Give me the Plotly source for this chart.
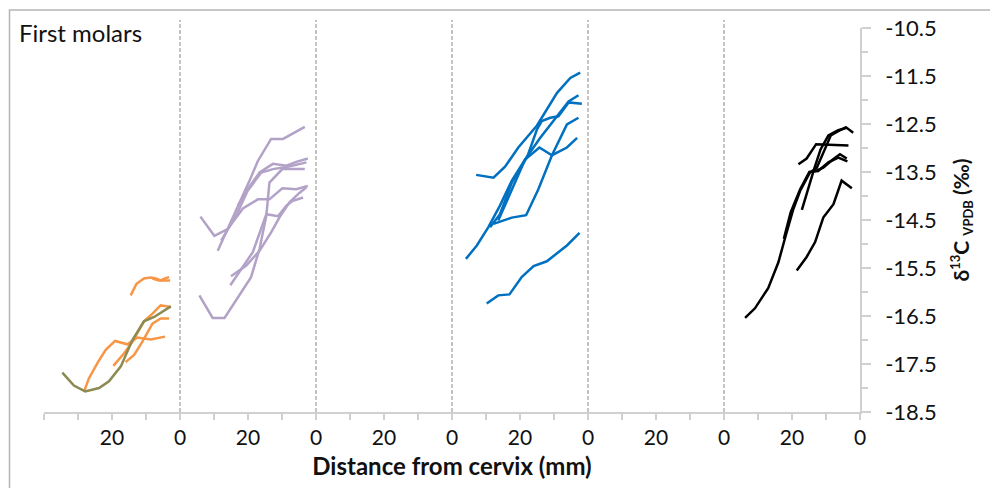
import plotly.graph_objects as go
import numpy as np

SEG_MM = 40  # each panel spans 40 mm of distance from cervix (reversed)

# ---- data: distance from cervix (mm) and δ13C VPDB (‰) per profile ----
orange_dist = [
    [14.5, 12.8, 10.6, 8.6, 7.1, 5.7, 4.2, 3.2],
    [8.1, 6.2, 2.9],
    [28.2, 26.8, 24.3, 21.9, 19.1, 15.5, 12.6, 8.6, 4.4],
    [19.6, 16.5, 14.0, 10.6, 8.1, 5.7, 2.7],
    [16.0, 13.5, 11.1, 8.1, 5.7, 3.2],
]
orange_d13c = [
    [-16.07, -15.83, -15.72, -15.70, -15.72, -15.76, -15.71, -15.69],
    [-15.72, -15.76, -15.76],
    [-18.07, -17.80, -17.48, -17.21, -17.02, -17.09, -16.95, -16.99, -16.93],
    [-17.54, -17.28, -17.04, -16.61, -16.45, -16.28, -16.31],
    [-17.46, -17.31, -17.04, -16.66, -16.55, -16.55],
]
olive_dist = [[34.6, 31.2, 27.9, 23.8, 20.9, 17.4, 14.0, 10.6, 7.6, 5.2, 2.7]]
olive_d13c = [[-17.68, -17.95, -18.07, -18.00, -17.86, -17.55, -17.00, -16.61, -16.52, -16.41, -16.30]]

purple_dist = [
    [34.0, 29.9, 26.0, 21.5, 17.1, 13.7, 9.9, 5.8, 2.4],
    [34.3, 30.4, 26.9, 19.1, 16.6, 14.6, 13.7, 9.9, 5.8, 3.3],
    [28.9, 25.5, 22.5, 19.6, 17.1, 13.2, 9.7, 3.3],
    [25.0, 20.5, 16.6, 13.2, 10.7, 7.8, 4.8, 2.8],
    [25.2, 22.0, 18.6, 14.6, 11.2, 8.7, 6.8, 3.8],
    [23.0, 20.1, 16.6, 12.7, 8.7, 5.8, 2.4],
    [27.9, 23.5, 20.1, 16.1, 12.7, 8.3, 2.8],
]
purple_d13c = [
    [-14.43, -14.83, -14.69, -14.26, -14.07, -14.07, -13.84, -13.86, -13.79],
    [-16.07, -16.54, -16.54, -15.69, -15.10, -14.41, -13.72, -13.44, -13.44, -13.44],
    [-15.14, -14.62, -14.17, -13.69, -13.27, -12.81, -12.81, -12.56],
    [-15.67, -15.45, -15.14, -14.76, -14.44, -14.13, -13.93, -13.82],
    [-15.86, -15.52, -15.17, -14.38, -14.42, -14.20, -14.10, -14.03],
    [-14.20, -13.86, -13.51, -13.33, -13.37, -13.29, -13.22],
    [-14.93, -14.41, -13.89, -13.51, -13.44, -13.39, -13.30],
]

blue_dist = [
    [32.9, 27.8, 24.4, 20.5, 15.0, 12.1, 9.1, 5.2, 2.3],
    [35.9, 32.7, 29.3, 25.9, 22.4, 18.5, 14.1, 9.1, 5.7, 2.8],
    [28.8, 25.9, 22.4, 17.8, 15.0, 13.6, 11.1, 8.7, 5.7, 1.8],
    [27.8, 22.4, 18.2, 14.6, 10.6, 6.2, 2.8],
    [26.4, 22.9, 18.5, 14.3, 10.6, 6.2, 3.2],
    [29.8, 26.4, 23.1, 19.5, 16.0, 12.1, 6.2, 2.5],
]
blue_d13c = [
    [-13.56, -13.62, -13.39, -12.99, -12.53, -12.20, -11.85, -11.54, -11.43],
    [-15.31, -15.03, -14.65, -14.20, -13.68, -13.24, -12.79, -12.34, -12.03, -11.90],
    [-14.65, -14.38, -13.72, -13.17, -12.61, -12.44, -12.37, -12.34, -12.05, -12.08],
    [-14.58, -14.45, -14.40, -13.86, -13.15, -12.51, -12.37],
    [-14.51, -13.93, -13.24, -12.99, -13.15, -12.99, -12.79],
    [-16.24, -16.07, -16.05, -15.69, -15.46, -15.36, -15.03, -14.77],
]

black_dist = [
    [33.8, 30.9, 27.0, 24.0, 22.1, 19.6, 17.6, 14.7, 12.7, 10.3, 8.6, 6.4, 3.9],
    [18.6, 15.7, 13.2, 10.8, 7.8, 5.4, 2.4],
    [18.1, 15.7, 12.9, 3.4],
    [22.4, 20.4, 17.6, 14.9, 12.3, 9.3, 6.4, 3.7],
    [17.1, 15.5, 13.5, 11.6, 9.3, 6.4, 3.9, 2.0],
    [13.2, 10.8, 8.0, 5.9, 3.9],
]
black_d13c = [
    [-16.54, -16.34, -15.92, -15.38, -14.89, -14.27, -13.89, -13.51, -13.41, -13.03, -12.74, -12.65, -12.56],
    [-15.55, -15.27, -14.96, -14.45, -14.17, -13.68, -13.84],
    [-13.34, -13.22, -12.92, -12.95],
    [-14.89, -14.34, -13.86, -13.50, -13.48, -13.30, -13.20, -13.28],
    [-14.29, -13.89, -13.44, -13.03, -12.74, -12.63, -12.58, -12.68],
    [-13.48, -13.41, -13.24, -13.13, -13.22],
]

n_panels = 6
x_tick_mm = list(range(0, SEG_MM * n_panels + 1, 10))
y_major = [-18.5, -17.5, -16.5, -15.5, -14.5, -13.5, -12.5, -11.5, -10.5]
y_minor = [-18, -17, -16, -15, -14, -13, -12, -11]

groups = [
    (orange_dist, orange_d13c, "#F79646", 0),
    (olive_dist, olive_d13c, "#8C8A50", 0),
    (purple_dist, purple_d13c, "#B3A2C7", 1),
    (blue_dist, blue_d13c, "#0070C0", 3),
    (black_dist, black_d13c, "#000000", 5),
]

fig = go.Figure()
for dists, vals, color, panel in groups:
    for d, v in zip(dists, vals):
        xs = panel * SEG_MM + (SEG_MM - np.array(d))
        fig.add_trace(go.Scatter(x=xs, y=v, mode="lines",
                                 line=dict(color=color, width=2.5),
                                 showlegend=False, hoverinfo="skip"))

def tick_text(v):
    r = v % SEG_MM
    if v == 0:
        return ""
    if r == 0:
        return "0"
    if r == 20:
        return "20"
    return ""

L, R, T, B = 44, 130, 28, 74
W, H = 990, 488
pw, ph = W - L - R, H - T - B

def px_x(px):
    return (px - L) / pw

def px_y(py):
    return (H - B - py) / ph

shapes = []
for k in range(1, n_panels):
    shapes.append(dict(type="line", xref="x", yref="paper",
                       x0=k * SEG_MM, x1=k * SEG_MM, y0=0, y1=px_y(20),
                       line=dict(color="#a6a6a6", width=1.3, dash="4px,2px")))
# outer chart frame
shapes.append(dict(type="rect", xref="paper", yref="paper",
                   x0=px_x(9.5), x1=px_x(1010), y0=px_y(500), y1=px_y(10),
                   line=dict(color="#b5b5b5", width=1.5), fillcolor="rgba(0,0,0,0)"))

font_family = "Lato, 'Open Sans', sans-serif"
axis_col = "#d0d0d0"

fig.update_layout(
    width=W, height=H, autosize=False,
    margin=dict(l=L, r=R, t=T, b=B, pad=0),
    plot_bgcolor="white", paper_bgcolor="white",
    font=dict(family=font_family, color="#111111", size=20),
    shapes=shapes,
    annotations=[dict(text="First molars", xref="paper", yref="paper",
                      x=px_x(17), y=px_y(33), xanchor="left", yanchor="middle",
                      showarrow=False, font=dict(size=24, family=font_family, color="#111111"))],
    xaxis=dict(range=[0, SEG_MM * n_panels], showgrid=False, zeroline=False,
               showline=True, linecolor=axis_col, linewidth=1.5,
               ticks="outside", ticklen=6, tickcolor=axis_col, tickwidth=1.5,
               tickvals=x_tick_mm, ticktext=[tick_text(v) for v in x_tick_mm],
               tickfont=dict(size=21),
               title=dict(text="<b>Distance from cervix (mm)</b>", standoff=10,
                          font=dict(size=24))),
    yaxis=dict(range=[-18.5, -10.5], side="right", showgrid=False, zeroline=False,
               showline=True, linecolor=axis_col, linewidth=1.5,
               ticks="outside", ticklen=9, tickcolor=axis_col, tickwidth=1.5,
               tickvals=y_major, ticktext=[f"{v:.1f}" for v in y_major],
               tickfont=dict(size=22), ticklabelstandoff=10,
               minor=dict(tickvals=y_minor, ticks="outside", ticklen=6,
                          tickcolor=axis_col, tickwidth=1.5),
               title=dict(text="<b>δ<sup><span style='font-size:13px'>13</span></sup>C "
                               "<sub><span style='font-size:13px'>VPDB</span></sub> (‰)</b>",
                          standoff=18, font=dict(size=21))),
)

fig.write_html("out.html")
